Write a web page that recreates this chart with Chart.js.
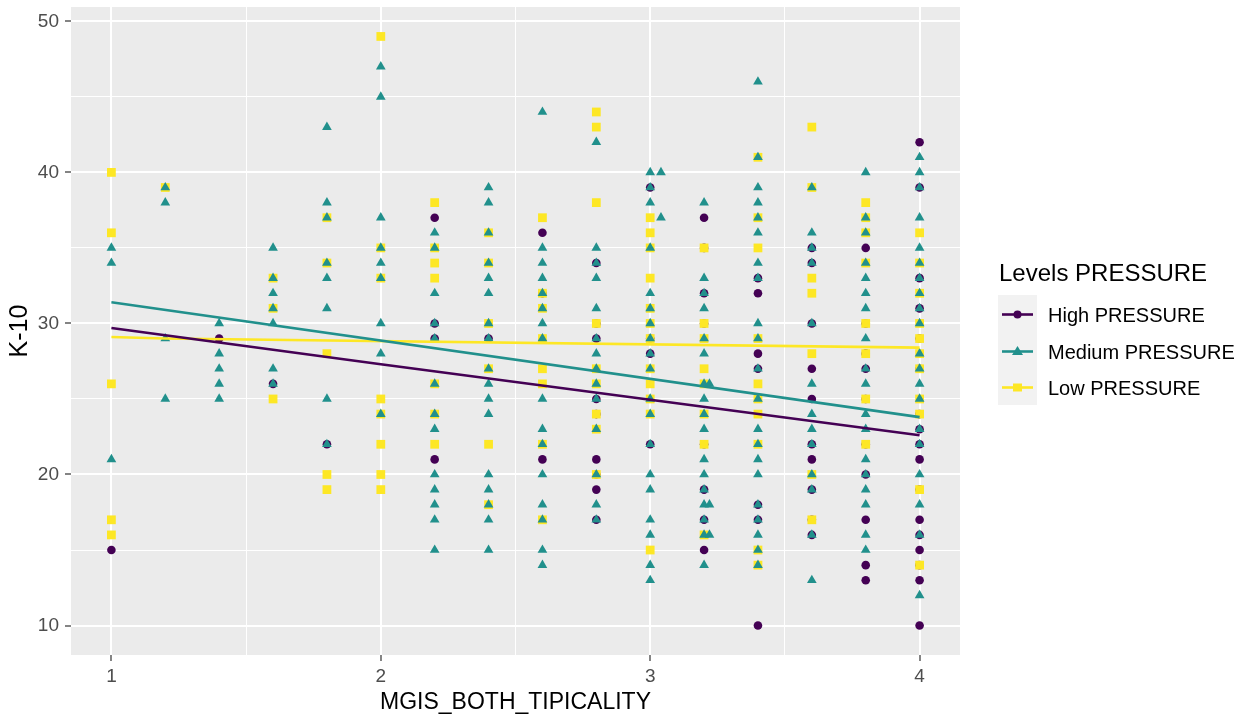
<!DOCTYPE html>
<html>
<head>
<meta charset="utf-8">
<script src="https://cdn.jsdelivr.net/npm/chart.js@4.4.0/dist/chart.umd.min.js"></script>
<style>
  body { margin: 0; background: #fff; font-family: "Liberation Sans", Arial, sans-serif; }
  #wrap { position: relative; width: 1247px; height: 716px; }
  #legenda { position: absolute; left: 0; top: 0; }
  #legenda .titulo { position: absolute; left: 999px; top: 261px; font-size: 24px; line-height: 24px; color: #000; white-space: nowrap; }
  #legenda .chaves { position: absolute; left: 998px; top: 295px; width: 39px; background: #F2F2F2; }
  #legenda .linha { height: 36.7px; position: relative; }
  #legenda .linha svg { position: absolute; left: 0; top: 0; }
  #legenda .rotulo { position: absolute; left: 1048px; font-size: 20px; line-height: 20px; color: #000; white-space: nowrap; }
</style>
</head>
<body>
<div id="wrap">
  <canvas id="grafico" width="1247" height="716"></canvas>
  <div id="legenda"></div>
</div>
<script>
// ticks (maiores e menores, como no ggplot)
const xTicks = [1, 2, 3, 4];
const xMinor = [1.5, 2.5, 3.5];
const yTicks = [10, 20, 30, 40, 50];
const yMinor = [15, 25, 35, 45];

const nomesSeries = ['High PRESSURE', 'Medium PRESSURE', 'Low PRESSURE'];

// pontos [MGIS_BOTH_TIPICALITY, K-10]
const highPressure = [
  [1, 15], [1.4, 29], [1.6, 26], [1.8, 22],
  [2.2, 37], [2.2, 30], [2.2, 29], [2.2, 21],
  [2.4, 29],
  [2.6, 36], [2.6, 32], [2.6, 21],
  [2.8, 34], [2.8, 30], [2.8, 29], [2.8, 25], [2.8, 24], [2.8, 21], [2.8, 20], [2.8, 19], [2.8, 17],
  [3, 39], [3, 29], [3, 28], [3, 22],
  [3.2, 37], [3.2, 35], [3.2, 32], [3.2, 30], [3.2, 22], [3.2, 19], [3.2, 17], [3.2, 15],
  [3.4, 33], [3.4, 32], [3.4, 28], [3.4, 27], [3.4, 18], [3.4, 17], [3.4, 10],
  [3.6, 35], [3.6, 34], [3.6, 30], [3.6, 27], [3.6, 25], [3.6, 22], [3.6, 21], [3.6, 19], [3.6, 17], [3.6, 16],
  [3.8, 35], [3.8, 30], [3.8, 28], [3.8, 27], [3.8, 25], [3.8, 22], [3.8, 20], [3.8, 17], [3.8, 14], [3.8, 13],
  [4, 42], [4, 39], [4, 33], [4, 31], [4, 29], [4, 27], [4, 24], [4, 23], [4, 22], [4, 21],
  [4, 19], [4, 17], [4, 16], [4, 15], [4, 14], [4, 13], [4, 10]
];

const mediumPressure = [
  [1, 35], [1, 34], [1, 21],
  [1.2, 39], [1.2, 38], [1.2, 29], [1.2, 25],
  [1.4, 30], [1.4, 28], [1.4, 27], [1.4, 26], [1.4, 25],
  [1.6, 35], [1.6, 33], [1.6, 32], [1.6, 31], [1.6, 30], [1.6, 27], [1.6, 26],
  [1.8, 43], [1.8, 38], [1.8, 37], [1.8, 34], [1.8, 33], [1.8, 31], [1.8, 25], [1.8, 22],
  [2, 47], [2, 45], [2, 37], [2, 35], [2, 34], [2, 33], [2, 30], [2, 28], [2, 24],
  [2.2, 36], [2.2, 35], [2.2, 32], [2.2, 30], [2.2, 29], [2.2, 26], [2.2, 24], [2.2, 23],
  [2.2, 20], [2.2, 19], [2.2, 18], [2.2, 17], [2.2, 15],
  [2.4, 39], [2.4, 38], [2.4, 36], [2.4, 34], [2.4, 33], [2.4, 32], [2.4, 30], [2.4, 29], [2.4, 27],
  [2.4, 26], [2.4, 25], [2.4, 24], [2.4, 20], [2.4, 19], [2.4, 18], [2.4, 17], [2.4, 15],
  [2.6, 44], [2.6, 35], [2.6, 34], [2.6, 33], [2.6, 32], [2.6, 31], [2.6, 30], [2.6, 29],
  [2.6, 25], [2.6, 23], [2.6, 22], [2.6, 20], [2.6, 18], [2.6, 17], [2.6, 15], [2.6, 14],
  [2.8, 42], [2.8, 35], [2.8, 34], [2.8, 33], [2.8, 31], [2.8, 29], [2.8, 28], [2.8, 27],
  [2.8, 26], [2.8, 25], [2.8, 23], [2.8, 20], [2.8, 18], [2.8, 17],
  [3, 40], [3, 39], [3, 38], [3, 35], [3, 32], [3, 31], [3, 30], [3, 29], [3, 28], [3, 27],
  [3, 25], [3, 24], [3, 22], [3, 20], [3, 19], [3, 17], [3, 16], [3, 14], [3, 13],
  [3.04, 40], [3.04, 37],
  [3.2, 38], [3.2, 33], [3.2, 32], [3.2, 31], [3.2, 29], [3.2, 28], [3.2, 26], [3.2, 25], [3.2, 24],
  [3.2, 23], [3.2, 21], [3.2, 20], [3.2, 19], [3.2, 18], [3.2, 17], [3.2, 16], [3.2, 14],
  [3.22, 26], [3.22, 18], [3.22, 16],
  [3.4, 46], [3.4, 41], [3.4, 39], [3.4, 38], [3.4, 37], [3.4, 36], [3.4, 34], [3.4, 33], [3.4, 30],
  [3.4, 29], [3.4, 27], [3.4, 25], [3.4, 23], [3.4, 22], [3.4, 21], [3.4, 20], [3.4, 18], [3.4, 17],
  [3.4, 16], [3.4, 15], [3.4, 14],
  [3.6, 39], [3.6, 36], [3.6, 35], [3.6, 34], [3.6, 30], [3.6, 26], [3.6, 24], [3.6, 23], [3.6, 22],
  [3.6, 20], [3.6, 19], [3.6, 16], [3.6, 13],
  [3.8, 40], [3.8, 37], [3.8, 36], [3.8, 34], [3.8, 33], [3.8, 32], [3.8, 31], [3.8, 29], [3.8, 27],
  [3.8, 26], [3.8, 24], [3.8, 23], [3.8, 21], [3.8, 20], [3.8, 19], [3.8, 18], [3.8, 16], [3.8, 15],
  [4, 41], [4, 40], [4, 39], [4, 37], [4, 35], [4, 34], [4, 33], [4, 32], [4, 31], [4, 30],
  [4, 28], [4, 27], [4, 26], [4, 25], [4, 23], [4, 22], [4, 20], [4, 18], [4, 16], [4, 12]
];

const lowPressure = [
  [1, 40], [1, 36], [1, 26], [1, 17], [1, 16],
  [1.2, 39],
  [1.6, 33], [1.6, 31], [1.6, 25],
  [1.8, 37], [1.8, 34], [1.8, 28], [1.8, 20], [1.8, 19],
  [2, 49], [2, 35], [2, 33], [2, 25], [2, 24], [2, 22], [2, 20], [2, 19],
  [2.2, 38], [2.2, 35], [2.2, 34], [2.2, 33], [2.2, 26], [2.2, 24], [2.2, 22],
  [2.4, 36], [2.4, 34], [2.4, 30], [2.4, 27], [2.4, 22], [2.4, 18],
  [2.6, 37], [2.6, 32], [2.6, 31], [2.6, 29], [2.6, 27], [2.6, 26], [2.6, 22], [2.6, 17],
  [2.8, 44], [2.8, 43], [2.8, 38], [2.8, 30], [2.8, 27], [2.8, 26], [2.8, 24], [2.8, 23], [2.8, 20],
  [3, 37], [3, 36], [3, 35], [3, 33], [3, 31], [3, 30], [3, 29], [3, 27], [3, 26], [3, 25], [3, 24], [3, 15],
  [3.2, 35], [3.2, 30], [3.2, 29], [3.2, 27], [3.2, 26], [3.2, 24], [3.2, 22], [3.2, 16],
  [3.4, 41], [3.4, 37], [3.4, 35], [3.4, 29], [3.4, 26], [3.4, 25], [3.4, 24], [3.4, 22], [3.4, 15], [3.4, 14],
  [3.6, 43], [3.6, 39], [3.6, 33], [3.6, 32], [3.6, 28], [3.6, 20], [3.6, 17],
  [3.8, 38], [3.8, 37], [3.8, 36], [3.8, 34], [3.8, 30], [3.8, 28], [3.8, 25], [3.8, 22],
  [4, 36], [4, 34], [4, 32], [4, 30], [4, 29], [4, 28], [4, 27], [4, 25], [4, 24], [4, 19], [4, 14]
];

const highLinha = [[1, 29.7], [2, 27.3], [4, 22.6]];
const mediumLinha = [[1, 31.4], [4, 23.8]];
const lowLinha = [[1, 29.1], [1.2, 29.0], [4, 28.4]];

const cores = ['#440154', '#21908C', '#FDE725'];
const formas = ['circle', 'triangle', 'rect'];
const raios = [4.3, 5.6, 6.2];

Chart.defaults.font.family = '"Liberation Sans", Arial, sans-serif';

const fundoPainel = {
  id: 'fundoPainel',
  beforeDraw(chart) {
    const { ctx, chartArea: a } = chart;
    ctx.save();
    ctx.fillStyle = '#EBEBEB';
    ctx.fillRect(a.left, a.top, a.right - a.left, a.bottom - a.top);
    ctx.restore();
  }
};

function serie(dados, i, ordem) {
  return {
    label: nomesSeries[i],
    data: dados,
    pointStyle: formas[i],
    pointRadius: raios[i],
    pointBackgroundColor: cores[i],
    pointBorderWidth: 0,
    showLine: false,
    order: ordem
  };
}

function reta(dados, i) {
  return {
    label: nomesSeries[i] + ' fit',
    data: dados,
    showLine: true,
    borderColor: cores[i],
    borderWidth: 2.6,
    pointRadius: 0,
    order: 0
  };
}

const todosX = [...xTicks, ...xMinor].sort((a, b) => a - b);
const todosY = [...yTicks, ...yMinor].sort((a, b) => a - b);

new Chart(document.getElementById('grafico'), {
  type: 'scatter',
  data: {
    datasets: [
      reta(highLinha, 0),
      reta(mediumLinha, 1),
      reta(lowLinha, 2),
      serie(mediumPressure, 1, 1),
      serie(lowPressure, 2, 2),
      serie(highPressure, 0, 3)
    ]
  },
  options: {
    responsive: false,
    animation: false,
    layout: { padding: { top: 7, right: 287, left: 0, bottom: 0 } },
    plugins: { legend: { display: false }, tooltip: { enabled: false } },
    scales: {
      x: {
        type: 'linear',
        min: 0.85,
        max: 4.15,
        afterBuildTicks: s => { s.ticks = todosX.map(v => ({ value: v })); },
        afterFit: s => { s.height = 61; s.paddingLeft = 0; s.paddingRight = 0; },
        border: { display: false },
        grid: {
          color: '#FFFFFF',
          lineWidth: c => xTicks.includes(c.tick.value) ? 2 : 1,
          tickLength: 6,
          tickWidth: 1.2,
          tickColor: c => xTicks.includes(c.tick.value) ? '#333333' : 'rgba(0,0,0,0)'
        },
        ticks: {
          autoSkip: false,
          maxRotation: 0,
          color: '#4D4D4D',
          font: { size: 19 },
          padding: 4,
          callback: v => xTicks.includes(v) ? String(v) : ''
        },
        title: {
          display: true,
          text: 'MGIS_BOTH_TIPICALITY',
          color: '#000',
          font: { size: 23 },
          padding: { top: 0, bottom: 0 }
        }
      },
      y: {
        type: 'linear',
        min: 8.05,
        max: 50.95,
        afterBuildTicks: s => { s.ticks = todosY.map(v => ({ value: v })); },
        afterFit: s => { s.width = 71; s.paddingTop = 0; s.paddingBottom = 0; },
        border: { display: false },
        grid: {
          color: '#FFFFFF',
          lineWidth: c => yTicks.includes(c.tick.value) ? 2 : 1,
          tickLength: 6,
          tickWidth: 1.2,
          tickColor: c => yTicks.includes(c.tick.value) ? '#333333' : 'rgba(0,0,0,0)'
        },
        ticks: {
          autoSkip: false,
          color: '#4D4D4D',
          font: { size: 19 },
          padding: 6,
          callback: v => yTicks.includes(v) ? String(v) : ''
        },
        title: {
          display: true,
          text: 'K-10',
          color: '#000',
          font: { size: 25 },
          padding: { top: 5, bottom: 0 }
        }
      }
    }
  },
  plugins: [fundoPainel]
});

// legenda no estilo ggplot
function chaveSvg(i) {
  const cx = 19.5, cy = 19.5, c = cores[i];
  let marca;
  if (formas[i] === 'circle') marca = `<circle cx="${cx}" cy="${cy}" r="4" fill="${c}"/>`;
  else if (formas[i] === 'triangle') marca = `<polygon points="${cx - 5.5},${cy + 3.5} ${cx + 5.5},${cy + 3.5} ${cx},${cy - 5.5}" fill="${c}"/>`;
  else marca = `<rect x="${cx - 4.5}" y="${cy - 4}" width="9" height="8" fill="${c}"/>`;
  return `<svg width="39" height="37"><line x1="4" y1="${cy}" x2="35" y2="${cy}" stroke="${c}" stroke-width="2.6"/>${marca}</svg>`;
}

const legenda = document.getElementById('legenda');
let html = `<div class="titulo">Levels PRESSURE</div><div class="chaves">`;
nomesSeries.forEach((n, i) => { html += `<div class="linha">${chaveSvg(i)}</div>`; });
html += `</div>`;
nomesSeries.forEach((n, i) => {
  html += `<div class="rotulo" style="top:${295 + 36.7 * i + 10}px">${n}</div>`;
});
legenda.innerHTML = html;
</script>
</body>
</html>
